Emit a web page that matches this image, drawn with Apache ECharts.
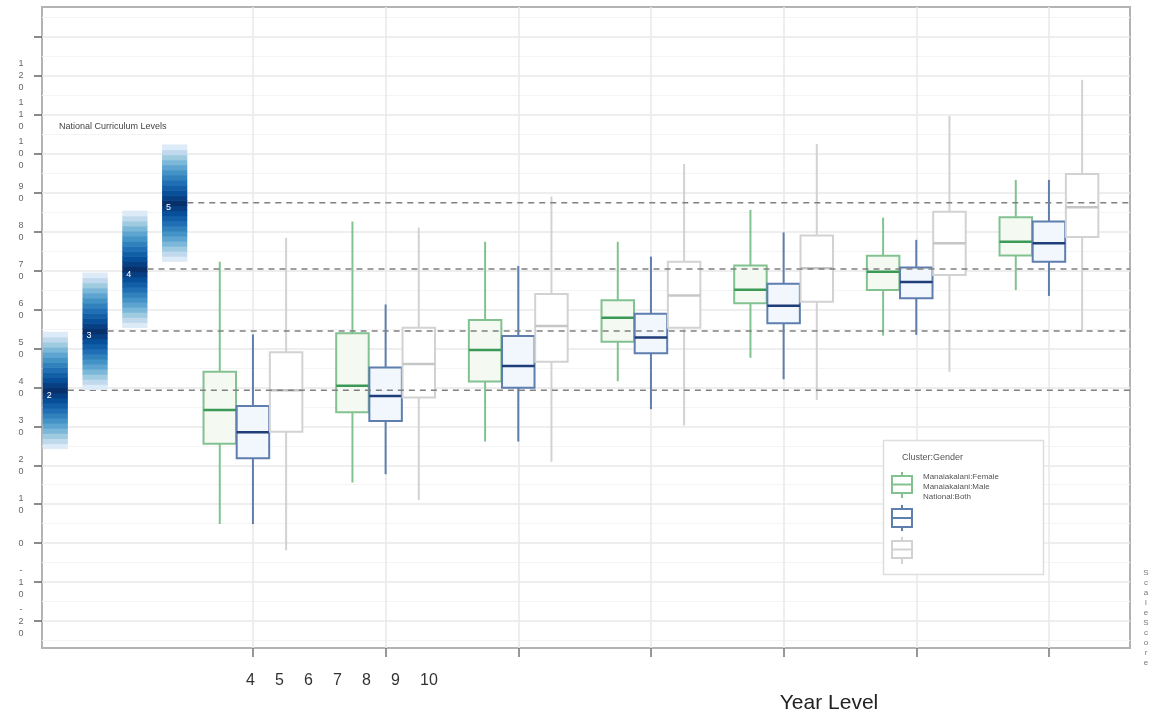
<!DOCTYPE html>
<html><head><meta charset="utf-8">
<script src="https://cdn.jsdelivr.net/npm/echarts@6/dist/echarts.min.js"></script>
<style>html,body{margin:0;padding:0;background:#fff}#c{width:1153px;height:717px}</style>
</head><body><div id="c"></div>
<script>
// ---------- data ----------
const years = [4, 5, 6, 7, 8, 9, 10];
// each row: [low whisker, q1, median, q3, high whisker]
const femaleStats = [
  [4.9, 25.5, 34.2, 44.0, 72.3],
  [15.6, 33.6, 40.4, 53.9, 82.6],
  [26.1, 41.5, 49.6, 57.3, 77.4],
  [41.6, 51.7, 57.9, 62.4, 77.4],
  [47.6, 61.6, 65.1, 71.3, 85.6],
  [53.3, 65.0, 69.7, 73.8, 83.6],
  [65.0, 73.9, 77.4, 83.7, 93.3]
];
const maleStats = [
  [4.9, 21.8, 28.5, 35.2, 53.6],
  [17.7, 31.4, 37.8, 45.1, 61.3],
  [26.1, 39.9, 45.5, 53.2, 71.2],
  [34.4, 48.8, 52.8, 58.9, 73.6],
  [42.1, 56.5, 61.0, 66.6, 79.8],
  [53.5, 62.9, 67.1, 70.8, 77.9],
  [63.5, 72.3, 77.0, 82.6, 93.3]
];
const nationalStats = [
  [-1.8, 28.6, 39.3, 49.0, 78.4],
  [11.1, 37.4, 46.0, 55.3, 81.1],
  [20.9, 46.6, 55.8, 64.0, 89.0],
  [30.2, 55.3, 63.6, 72.3, 97.4],
  [36.8, 62.0, 70.6, 79.0, 102.5],
  [44.0, 68.9, 77.0, 85.1, 109.7],
  [54.3, 78.6, 86.3, 94.8, 119.0]
];
const seriesNames = ['Manaiakalani:Female', 'Manaiakalani:Male', 'National:Both'];
const levelNames = ['2', '3', '4', '5'];
const levelScores = [39.3, 54.5, 70.4, 87.4];
const yTickValues = [-20, -10, 0, 10, 20, 30, 40, 50, 60, 70, 80, 90, 100, 110, 120, 130];
const yMinorValues = [-25, -15, -5, 5, 15, 25, 35, 45, 55, 65, 75, 85, 95, 105, 115, 125, 135];
const yUnlabelled = [130];

// ---------- layout / style ----------
const X_MIN = 2.41, X_MAX = 10.611;
const Y_MIN = -26.93, Y_MAX = 137.7;
const BOX_OFF = 0.25, BOX_W = 0.245;
const LEVEL_X0 = 2.51, LEVEL_STEP = 0.3, LEVEL_W = 0.19, LEVEL_HALF = 15, LEVEL_STRIPES = 11;
const BLUES = ['#f7fbff', '#deebf7', '#c6dbef', '#9ecae1', '#6baed6', '#4292c6', '#2171b5', '#08519c', '#08306b'];
const styles = [
  { border: '#82c291', whisker: '#82c291', median: '#3b9956', fill: '#f4f9f2' },
  { border: '#5e7eae', whisker: '#5e7eae', median: '#1f3d78', fill: '#f1f7fd' },
  { border: '#d2d2d2', whisker: '#d2d2d2', median: '#c6c6c6', fill: '#ffffff' }
];
const FONT = '"Liberation Sans", Arial, sans-serif';

function boxRender(st, offset) {
  return function (params, api) {
    const x = api.value(0) + offset;
    const lo = api.coord([x, api.value(1)]);
    const q1 = api.coord([x, api.value(2)]);
    const med = api.coord([x, api.value(3)]);
    const q3 = api.coord([x, api.value(4)]);
    const hi = api.coord([x, api.value(5)]);
    const hw = api.size([BOX_W, 0])[0] / 2;
    const cx = lo[0];
    return {
      type: 'group', children: [
        { type: 'line', shape: { x1: cx, y1: hi[1], x2: cx, y2: lo[1] }, style: { stroke: st.whisker, lineWidth: 2 } },
        { type: 'rect', shape: { x: cx - hw, y: q3[1], width: hw * 2, height: q1[1] - q3[1] }, style: { fill: st.fill, stroke: st.border, lineWidth: 2 } },
        { type: 'line', shape: { x1: cx - hw, y1: med[1], x2: cx + hw, y2: med[1] }, style: { stroke: st.median, lineWidth: 2.5 } }
      ]
    };
  };
}

function levelRender(params, api) {
  const i = api.value(0);
  const s = api.value(1);
  const x = LEVEL_X0 + i * LEVEL_STEP;
  const left = api.coord([x - LEVEL_W / 2, s])[0];
  const right = api.coord([x + LEVEL_W / 2, s])[0];
  const h = LEVEL_HALF * 2 / (LEVEL_STRIPES * 2 + 1);
  const children = [];
  for (let k = -LEVEL_STRIPES; k <= LEVEL_STRIPES; k++) {
    const top = api.coord([x, s + (k + 0.5) * h])[1];
    const bot = api.coord([x, s + (k - 0.5) * h])[1];
    const t = Math.pow(1 - Math.abs(k) / (LEVEL_STRIPES + 0.5), 0.65);
    children.push({ type: 'rect', shape: { x: left, y: top, width: right - left, height: bot - top + 0.6 },
      style: { fill: echarts.color.lerp(t, BLUES) } });
  }
  const c = api.coord([x, s]);
  const endX = api.coord([X_MAX, s])[0];
  children.push({ type: 'line', shape: { x1: right, y1: c[1], x2: endX, y2: c[1] },
    style: { stroke: '#808080', lineWidth: 1.5, lineDash: [6, 5] } });
  children.push({ type: 'text', x: left + 4, y: c[1] + 5,
    style: { text: levelNames[i], fill: '#ffffff', fontSize: 9, fontFamily: FONT, verticalAlign: 'middle' } });
  return { type: 'group', children };
}

const statsList = [femaleStats, maleStats, nationalStats];
const offsets = [-BOX_OFF, 0, BOX_OFF];
const boxSeries = statsList.map((stats, si) => ({
  name: seriesNames[si],
  type: 'custom',
  xAxisIndex: 0, yAxisIndex: 0,
  renderItem: boxRender(styles[si], offsets[si]),
  encode: { x: 0, y: [1, 2, 3, 4, 5] },
  data: years.map((yr, i) => [yr].concat(stats[i])),
  z: 3
}));

function legendIcon(cx, yTop, yBot, bTop, bBot, st) {
  const hw = 10;
  return [
    { type: 'line', z: 101, shape: { x1: cx, y1: yTop, x2: cx, y2: yBot }, style: { stroke: st.whisker, lineWidth: 2 } },
    { type: 'rect', z: 102, shape: { x: cx - hw, y: bTop, width: hw * 2, height: bBot - bTop }, style: { fill: '#fff', stroke: st.border, lineWidth: 2 } },
    { type: 'line', z: 103, shape: { x1: cx - hw, y1: (bTop + bBot) / 2, x2: cx + hw, y2: (bTop + bBot) / 2 }, style: { stroke: st.border, lineWidth: 2 } }
  ];
}

const graphics = [
  { type: 'text', x: 59, y: 127, z: 50, style: { text: 'National Curriculum Levels', fill: '#444', fontSize: 9, fontFamily: FONT, verticalAlign: 'middle' } },
  { type: 'text', x: 829, y: 703, z: 50, style: { text: 'Year Level', fill: '#222', fontSize: 21, fontFamily: FONT, align: 'center', verticalAlign: 'middle' } },
  { type: 'text', x: 1146, y: 568, z: 50, style: { text: 'ScaleScore'.split('').join('\n'), fill: '#777', fontSize: 8, lineHeight: 10, fontFamily: FONT, align: 'center' } },
  { type: 'rect', z: 100, shape: { x: 883.5, y: 440.5, width: 160, height: 134 }, style: { fill: '#fff', stroke: '#dddddd', lineWidth: 1.5 } },
  { type: 'text', x: 902, y: 458, z: 101, style: { text: 'Cluster:Gender', fill: '#555', fontSize: 9, fontFamily: FONT, verticalAlign: 'middle' } }
].concat(
  legendIcon(902, 472, 498, 476, 493, styles[0]),
  legendIcon(902, 505, 531, 509, 527, styles[1]),
  legendIcon(902, 537, 564, 541, 558, styles[2]),
  seriesNames.map((n, i) => ({ type: 'text', x: 923, y: 477 + i * 10, z: 101,
    style: { text: n, fill: '#555', fontSize: 8, fontFamily: FONT, verticalAlign: 'middle' } }))
);

const chart = echarts.init(document.getElementById('c'), null, { renderer: 'canvas' });
chart.setOption({
  animation: false,
  backgroundColor: '#fff',
  textStyle: { fontFamily: FONT },
  grid: [
    { left: 42, right: 23, top: 7, bottom: 69, show: true, borderColor: '#b3b3b3', borderWidth: 2, backgroundColor: 'transparent' },
    { left: 246, width: 174, bottom: 69, height: 10 }
  ],
  xAxis: [
    { type: 'value', gridIndex: 0, min: X_MIN, max: X_MAX, position: 'bottom',
      axisLine: { show: false, onZero: false },
      axisTick: { show: true, customValues: years, length: 9, lineStyle: { color: '#777', width: 1.5 } },
      axisLabel: { show: false },
      splitLine: { show: true, lineStyle: { color: '#e9e9e9', width: 1.5 } } },
    { type: 'category', gridIndex: 1, boundaryGap: false, data: years.map(String),
      axisLine: { show: false, onZero: false }, axisTick: { show: false },
      axisLabel: { align: 'left', margin: 25, fontSize: 16, color: '#333', interval: 0 },
      splitLine: { show: false } }
  ],
  yAxis: [
    { type: 'value', gridIndex: 0, min: Y_MIN, max: Y_MAX, position: 'left',
      axisLine: { show: false, onZero: false },
      axisTick: { show: true, customValues: yTickValues, length: 8, lineStyle: { color: '#666', width: 1.5 } },
      axisLabel: { customValues: yTickValues, align: 'center', margin: 21, fontSize: 9, lineHeight: 12, color: '#666',
        showMinLabel: true, showMaxLabel: true, hideOverlap: false,
        formatter: v => yUnlabelled.indexOf(v) >= 0 ? '' : String(v).split('').join('\n') },
      splitLine: { show: true, lineStyle: { color: '#e9e9e9', width: 1.5 } } },
    { type: 'value', gridIndex: 0, min: Y_MIN, max: Y_MAX, position: 'right',
      axisLine: { show: false, onZero: false },
      axisTick: { show: false, customValues: yMinorValues },
      axisLabel: { show: false, customValues: yMinorValues },
      splitLine: { show: true, lineStyle: { color: '#f4f4f4', width: 1 } } },
    { type: 'value', gridIndex: 1, show: false }
  ],
  series: boxSeries.concat([{
    name: 'National Curriculum Levels',
    type: 'custom',
    xAxisIndex: 0, yAxisIndex: 0,
    renderItem: levelRender,
    data: levelScores.map((s, i) => [i, s]),
    z: 5
  }]),
  graphic: graphics
});
</script>
</body></html>
